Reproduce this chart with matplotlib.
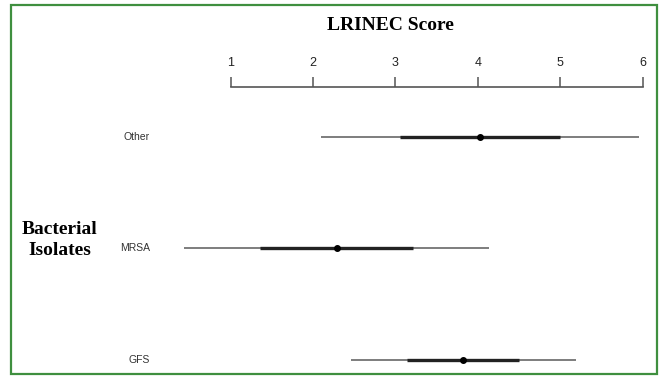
import matplotlib
matplotlib.use("Agg")
import matplotlib.pyplot as plt
from matplotlib.patches import Rectangle

# bacterial isolates, bottom to top
isolates = ['GFS', 'MRSA', 'Other']
median = [3.82, 2.29, 4.02]
q1 = [3.14, 1.36, 3.05]
q3 = [4.50, 3.21, 5.00]
low = [2.46, 0.43, 2.09]
high = [5.19, 4.14, 5.96]
ticks = [1, 2, 3, 4, 5, 6]

fig = plt.figure(figsize=(6.59, 3.76), dpi=100)
ax = fig.add_axes([0, 0, 1, 1])
ax.set_xlim(-1.80, 6.198)
ax.set_ylim(-0.1435, 3.2287)

for i, name in enumerate(isolates):
    ax.plot([low[i], high[i]], [i, i], color='#5a5a5a', lw=1.1, solid_capstyle='butt')
    ax.plot([q1[i], q3[i]], [i, i], color='#222222', lw=2.4, solid_capstyle='butt')
    ax.plot(median[i], i, 'o', color='black', markersize=4)
    ax.text(0.02, i, name, ha='right', va='center', fontsize=7.5,
            family='Liberation Sans', color='#333333')

for s in ['left', 'right', 'bottom']:
    ax.spines[s].set_visible(False)
ax.spines['top'].set_position(('data', 2.448))
ax.spines['top'].set_bounds(1, 6)
ax.spines['top'].set_color('#555555')
ax.spines['top'].set_linewidth(1.2)
ax.set_yticks([])
ax.set_xticks(ticks)
ax.set_xticklabels([str(t) for t in ticks], family='Liberation Sans', fontsize=9)
ax.tick_params(axis='x', top=True, bottom=False, labeltop=True, labelbottom=False,
               direction='out', length=7.2, width=1.1, color='#555555', pad=6, labelcolor='#222222')
ax.patch.set_visible(False)

fig.text(390 / 659, 1 - 25 / 376, 'LRINEC Score', ha='center', va='center',
         fontsize=14, fontweight='bold', family='Liberation Serif')
fig.text(60 / 659, 1 - 240 / 376, 'Bacterial\nIsolates', ha='center', va='center',
         fontsize=14, fontweight='bold', family='Liberation Serif', linespacing=1.35)

fig.patches.append(Rectangle((11 / 659, 1 - 373.5 / 376), 646 / 659, 368.5 / 376,
                             transform=fig.transFigure, fill=False,
                             edgecolor='#3f8f3f', lw=1.6))

fig.savefig('out.png', dpi=100)
